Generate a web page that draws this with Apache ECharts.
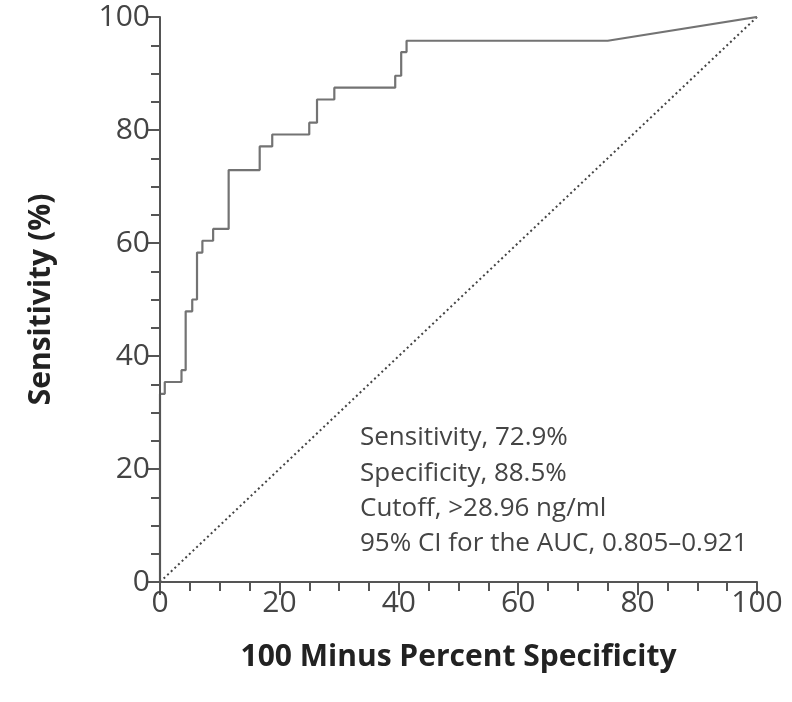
<!DOCTYPE html>
<html>
<head>
<meta charset="utf-8">
<script src="https://cdn.jsdelivr.net/npm/echarts@6/dist/echarts.min.js"></script>
<style>
  html, body { margin: 0; padding: 0; background: #fff; }
  #chart { width: 792px; height: 702px; }
</style>
</head>
<body>
<div id="chart"></div>
<script>
// ROC curve: 100 minus specificity (x, %) and sensitivity (y, %)
const rocFpr = [0, 0, 0.8, 0.8, 3.6, 3.6, 4.3, 4.3, 5.4, 5.4, 6.2, 6.2, 7.1, 7.1, 8.9, 8.9,
  11.5, 11.5, 16.7, 16.7, 18.8, 18.8, 25.0, 25.0, 26.3, 26.3, 29.2, 29.2, 39.4, 39.4,
  40.4, 40.4, 41.3, 41.3, 75.0, 100];
const rocTpr = [0, 33.3, 33.3, 35.4, 35.4, 37.5, 37.5, 47.9, 47.9, 50.0, 50.0, 58.3, 58.3, 60.4, 60.4, 62.5,
  62.5, 72.9, 72.9, 77.1, 77.1, 79.2, 79.2, 81.3, 81.3, 85.4, 85.4, 87.5, 87.5, 89.6,
  89.6, 93.8, 93.8, 95.8, 95.8, 100];

// Reference line of no discrimination
const chanceX = [0, 100];
const chanceY = [0, 100];

const axisTicks = [0, 20, 40, 60, 80, 100];

const statLines = [
  'Sensitivity, 72.9%',
  'Specificity, 88.5%',
  'Cutoff, >28.96 ng/ml',
  '95% CI for the AUC, 0.805\u20130.921'
];

const chart = echarts.init(document.getElementById('chart'), null, { renderer: 'canvas' });

const axisColor = '#555';
const textColor = '#444';
const fontFamily = 'Open Sans, Lato, sans-serif';

function valueAxis(extra) {
  return Object.assign({
    type: 'value',
    z: 5,
    min: axisTicks[0],
    max: axisTicks[axisTicks.length - 1],
    interval: axisTicks[1] - axisTicks[0],
    splitLine: { show: false },
    axisLine: { show: true, lineStyle: { color: axisColor, width: 2 } },
    axisTick: { show: true, length: 13, lineStyle: { color: axisColor, width: 2 } },
    minorTick: { show: true, splitNumber: 4, length: 9, lineStyle: { color: axisColor, width: 2 } },
    nameLocation: 'middle',
    nameTextStyle: { color: '#222', fontSize: 30, fontWeight: 'bold', fontFamily: fontFamily }
  }, extra);
}

chart.setOption({
  animation: false,
  backgroundColor: '#fff',
  grid: { left: 160, top: 17, right: 35, bottom: 120, containLabel: false },
  xAxis: valueAxis({
    name: '100 Minus Percent Specificity',
    nameGap: 60,
    axisLabel: { color: textColor, fontSize: 30, fontFamily: fontFamily, margin: 6 }
  }),
  yAxis: valueAxis({
    name: 'Sensitivity (%)',
    nameGap: 104,
    axisLabel: { color: textColor, fontSize: 30, fontFamily: fontFamily, margin: 10 }
  }),
  series: [
    {
      type: 'line',
      name: 'Chance',
      data: chanceX.map((x, i) => [x, chanceY[i]]),
      showSymbol: false,
      lineStyle: { color: '#444', width: 2, type: [2, 3] },
      z: 2
    },
    {
      type: 'line',
      name: 'ROC',
      data: rocFpr.map((x, i) => [x, rocTpr[i]]),
      showSymbol: false,
      lineStyle: { color: '#737373', width: 2.2 },
      z: 3
    }
  ],
  graphic: statLines.map((t, i) => ({
    type: 'text',
    left: 360,
    top: 425 + i * 35.3,
    style: { text: t, fill: textColor, font: '26px ' + fontFamily }
  }))
});
</script>
</body>
</html>
